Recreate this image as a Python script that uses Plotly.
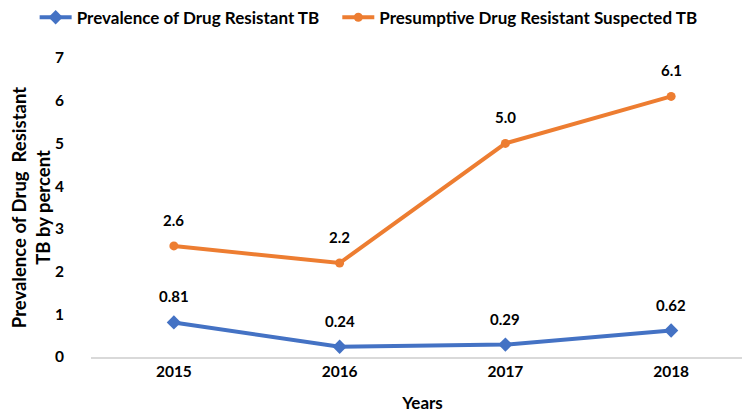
import plotly.graph_objects as go

years = ["2015", "2016", "2017", "2018"]
prevalence = [0.81, 0.24, 0.29, 0.62]
presumptive = [2.6, 2.2, 5.0, 6.1]
prevalence_labels = ["0.81", "0.24", "0.29", "0.62"]
presumptive_labels = ["2.6", "2.2", "5.0", "6.1"]

FONT = "Lato"
NB = "\u00a0"
fig = go.Figure()
fig.add_trace(go.Scatter(
    x=years, y=prevalence, mode="lines+markers",
    name="<b>Prevalence of Drug Resistant TB</b>" + NB * 3,
    line=dict(color="#4472C4", width=4),
    marker=dict(symbol="diamond", size=11, color="#4472C4"),
))
fig.add_trace(go.Scatter(
    x=years, y=presumptive, mode="lines+markers",
    name="<b>Presumptive Drug Resistant Suspected TB</b>",
    line=dict(color="#ED7D31", width=4),
    marker=dict(symbol="circle", size=9, color="#ED7D31"),
))

for ys, labs in [(prevalence, prevalence_labels), (presumptive, presumptive_labels)]:
    for i, (yv, lab) in enumerate(zip(ys, labs)):
        fig.add_annotation(x=i, y=yv, xref="x", yref="y", text="<b>%s</b>" % lab,
                           showarrow=False, yshift=26,
                           font=dict(family=FONT, size=15, color="#000"))

fig.update_layout(
    width=750, height=418,
    margin=dict(l=83, r=4, t=50, b=69, autoexpand=False),
    paper_bgcolor="white", plot_bgcolor="white",
    font=dict(family=FONT, size=15, color="#000"),
    showlegend=True,
    legend=dict(orientation="h", x=-0.085, y=1.195, xanchor="left", yanchor="top",
                font=dict(family=FONT, size=17, color="#000"),
                itemwidth=32),
    xaxis=dict(
        type="category", categoryorder="array", categoryarray=years,
        range=[-0.5, 3.5], automargin=False,
        showgrid=False, showline=True, linecolor="#D9D9D9", linewidth=1.5,
        ticks="", tickfont=dict(family=FONT, size=15.5, color="#000", weight="bold"),
        title=dict(text="<b>Years</b>", font=dict(family=FONT, size=17), standoff=18),
        zeroline=False,
    ),
    yaxis=dict(
        range=[0, 7], dtick=1, showgrid=False, zeroline=False, showline=False,
        automargin=False,
        ticks="", tickfont=dict(family=FONT, size=15.5, color="#000", weight="bold"),
        ticklabelstandoff=26,
        title=dict(text="<b>Prevalence of Drug  Resistant<br>TB by percent</b>",
                   font=dict(family=FONT, size=18.5), standoff=6),
    ),
)
fig.write_html("out.html")
